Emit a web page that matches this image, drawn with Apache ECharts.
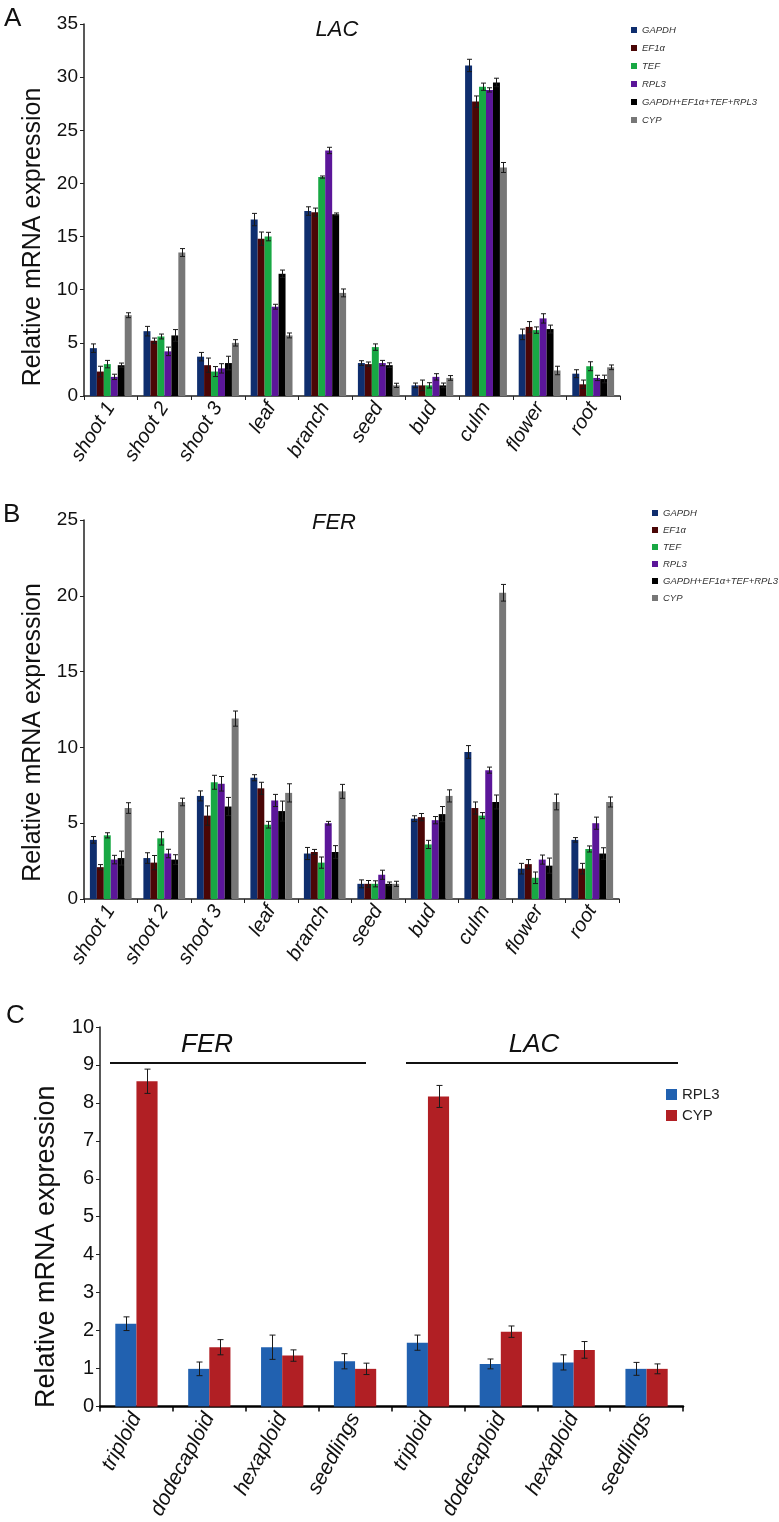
<!DOCTYPE html>
<html>
<head>
<meta charset="utf-8">
<script src="https://cdn.jsdelivr.net/npm/echarts@6/dist/echarts.min.js"></script>
<style>html,body{margin:0;padding:0;background:#fff}#c{width:779px;height:1522px}</style>
</head>
<body>
<div id="c"></div>
<script>
// ---------- DATA ----------
const tissues = ['shoot 1','shoot 2','shoot 3','leaf','branch','seed','bud','culm','flower','root'];
const refGenes = ['GAPDH','EF1α','TEF','RPL3','GAPDH+EF1α+TEF+RPL3','CYP'];

// Panel A: LAC
const lacGAPDH = [4.5, 6.1, 3.7, 16.6, 17.4, 3.1, 1.0, 31.1, 5.8, 2.1];
const lacEF1a  = [2.3, 5.2, 2.9, 14.8, 17.3, 3.0, 1.0, 27.7, 6.5, 1.1];
const lacTEF   = [3.0, 5.6, 2.3, 15.0, 20.6, 4.6, 1.0, 29.1, 6.2, 2.8];
const lacRPL3  = [1.8, 4.2, 2.6, 8.4, 23.1, 3.1, 1.8, 28.8, 7.3, 1.7];
const lacComb  = [2.9, 5.7, 3.1, 11.5, 17.1, 2.9, 1.0, 29.5, 6.3, 1.6];
const lacCYP   = [7.6, 13.5, 5.0, 5.7, 9.7, 1.0, 1.7, 21.5, 2.4, 2.7];
const lacGAPDHErr = [0.4, 0.45, 0.4, 0.58, 0.4, 0.22, 0.22, 0.58, 0.5, 0.37];
const lacEF1aErr  = [0.5, 0.25, 0.67, 0.63, 0.38, 0.2, 0.5, 0.53, 0.5, 0.4];
const lacTEFErr   = [0.35, 0.23, 0.47, 0.4, 0.1, 0.3, 0.25, 0.34, 0.3, 0.42];
const lacRPL3Err  = [0.25, 0.4, 0.44, 0.23, 0.3, 0.25, 0.3, 0.2, 0.44, 0.25];
const lacCombErr  = [0.2, 0.55, 0.64, 0.35, 0.12, 0.22, 0.22, 0.4, 0.37, 0.36];
const lacCYPErr   = [0.23, 0.37, 0.3, 0.23, 0.37, 0.2, 0.22, 0.47, 0.4, 0.22];

// Panel B: FER
const ferGAPDH = [3.9, 2.7, 6.8, 8.0, 3.0, 1.0, 5.3, 9.7, 2.0, 3.9];
const ferEF1a  = [2.1, 2.4, 5.5, 7.3, 3.1, 1.0, 5.4, 6.0, 2.3, 2.0];
const ferTEF   = [4.2, 4.0, 7.7, 4.9, 2.4, 1.0, 3.6, 5.5, 1.4, 3.3];
const ferRPL3  = [2.6, 3.0, 7.6, 6.5, 5.0, 1.6, 5.2, 8.5, 2.6, 5.0];
const ferComb  = [2.7, 2.6, 6.1, 5.8, 3.1, 1.0, 5.6, 6.4, 2.2, 3.0];
const ferCYP   = [6.0, 6.4, 11.9, 7.0, 7.1, 1.0, 6.8, 20.2, 6.4, 6.4];
const ferGAPDHErr = [0.22, 0.35, 0.33, 0.2, 0.4, 0.26, 0.19, 0.42, 0.35, 0.15];
const ferEF1aErr  = [0.17, 0.47, 0.64, 0.4, 0.17, 0.22, 0.24, 0.4, 0.3, 0.35];
const ferTEFErr   = [0.17, 0.44, 0.46, 0.22, 0.37, 0.2, 0.27, 0.2, 0.38, 0.2];
const ferRPL3Err  = [0.28, 0.28, 0.48, 0.4, 0.12, 0.3, 0.24, 0.2, 0.3, 0.4];
const ferCombErr  = [0.46, 0.32, 0.6, 0.66, 0.42, 0.12, 0.5, 0.46, 0.5, 0.38];
const ferCYPErr   = [0.35, 0.25, 0.5, 0.6, 0.46, 0.17, 0.4, 0.55, 0.52, 0.33];

// Panel C
const ploidy = ['triploid','dodecaploid','hexaploid','seedlings','triploid','dodecaploid','hexaploid','seedlings'];
const cGenes = ['RPL3','CYP'];
const cRPL3 = [2.18, 0.99, 1.56, 1.19, 1.68, 1.12, 1.16, 0.99];
const cCYP  = [8.57, 1.56, 1.34, 0.99, 8.17, 1.97, 1.49, 0.99];
const cRPL3Err = [0.18, 0.18, 0.32, 0.2, 0.2, 0.13, 0.2, 0.17];
const cCYPErr  = [0.32, 0.2, 0.15, 0.15, 0.29, 0.15, 0.22, 0.13];

const yTicksA = [0, 5, 10, 15, 20, 25, 30, 35];
const yTicksB = [0, 5, 10, 15, 20, 25];
const yTicksC = [0, 1, 2, 3, 4, 5, 6, 7, 8, 9, 10];

// ---------- STYLE ----------
const geneColors = ['#0f2e6e', '#4a0606', '#18a844', '#5b1699', '#000000', '#777777'];
const cColors = ['#2161b0', '#b11f24'];
const FONT = '"Liberation Sans", Arial, sans-serif';
const NARROW = '"Liberation Sans Narrow", "Liberation Sans", Arial, sans-serif';

const lacVals = [lacGAPDH, lacEF1a, lacTEF, lacRPL3, lacComb, lacCYP];
const lacErrs = [lacGAPDHErr, lacEF1aErr, lacTEFErr, lacRPL3Err, lacCombErr, lacCYPErr];
const ferVals = [ferGAPDH, ferEF1a, ferTEF, ferRPL3, ferComb, ferCYP];
const ferErrs = [ferGAPDHErr, ferEF1aErr, ferTEFErr, ferRPL3Err, ferCombErr, ferCYPErr];

const GAP_AB = 0.22, GAP_C = 0.42;

function errSeries(axisIdx, vals, errs, i, n, gap, capHalf, name) {
  return {
    type: 'custom', name: name + ' err', xAxisIndex: axisIdx, yAxisIndex: axisIdx,
    silent: true, z: 5,
    data: vals.map((v, k) => [k, v, errs[k]]),
    encode: { x: 0, y: 1 },
    renderItem: function (params, api) {
      const idx = api.value(0), v = api.value(1), e = api.value(2);
      const base = api.coord([idx, v]);
      const band = api.size([1, 0])[0];
      const total = band * (1 - gap);
      const bw = total / n;
      const cx = Math.round(base[0] - total / 2 + bw * (i + 0.5)) + 0.5;
      const yt = api.coord([idx, v + e])[1];
      const yb = api.coord([idx, v - e])[1];
      const st = { stroke: '#1a1a1a', lineWidth: 1 };
      return {
        type: 'group',
        children: [
          { type: 'line', shape: { x1: cx, y1: yt, x2: cx, y2: yb }, style: st },
          { type: 'line', shape: { x1: cx - capHalf, y1: yt, x2: cx + capHalf, y2: yt }, style: st },
          { type: 'line', shape: { x1: cx - capHalf, y1: yb, x2: cx + capHalf, y2: yb }, style: st }
        ]
      };
    }
  };
}

const series = [];
[[lacVals, lacErrs, 0], [ferVals, ferErrs, 1]].forEach(([vals, errs, ax]) => {
  refGenes.forEach((g, i) => {
    series.push({
      type: 'bar', name: g, xAxisIndex: ax, yAxisIndex: ax,
      data: vals[i], barGap: '0%', barCategoryGap: (GAP_AB * 100) + '%',
      itemStyle: { color: geneColors[i] }
    });
  });
  refGenes.forEach((g, i) => series.push(errSeries(ax, vals[i], errs[i], i, 6, GAP_AB, 2.5, g)));
});
const cVals = [cRPL3, cCYP], cErrs = [cRPL3Err, cCYPErr];
cGenes.forEach((g, i) => {
  series.push({
    type: 'bar', name: g, xAxisIndex: 2, yAxisIndex: 2,
    data: cVals[i], barGap: '0%', barCategoryGap: (GAP_C * 100) + '%',
    itemStyle: { color: cColors[i] }
  });
});
cGenes.forEach((g, i) => series.push(errSeries(2, cVals[i], cErrs[i], i, 2, GAP_C, 3, g + 'C')));

function xAxisAB(idx) {
  return {
    type: 'category', gridIndex: idx, data: tissues,
    axisLine: { lineStyle: { color: '#222', width: 1.5 } },
    axisTick: { show: true, length: 4, lineStyle: { color: '#222' } },
    axisLabel: { rotate: 58, fontSize: 20, fontStyle: 'italic', color: '#111', fontFamily: FONT, margin: 8, interval: 0 }
  };
}
function yAxisAB(idx, max, ticks, shiftDown) {
  return {
    type: 'value', gridIndex: idx, min: ticks[0], max: max, interval: ticks[1] - ticks[0],
    name: 'Relative mRNA expression', nameLocation: 'middle', nameGap: 37,
    nameTextStyle: { fontSize: 25, color: '#111', fontFamily: FONT, padding: [0, shiftDown * 2, 0, 0] },
    axisLine: { show: true, lineStyle: { color: '#222', width: 1.5 } },
    axisTick: { show: true, length: 4, lineStyle: { color: '#222' } },
    splitLine: { show: false },
    axisLabel: { fontSize: 19, color: '#111', fontFamily: FONT, margin: 6 }
  };
}

function legendAB(top, left, gap) {
  return {
    orient: 'vertical', left: left, top: top, data: refGenes,
    icon: 'rect', itemWidth: 6, itemHeight: 6, itemGap: gap,
    textStyle: { fontSize: 9.5, fontStyle: 'italic', color: '#333', fontFamily: FONT, lineHeight: 12 },
    selectedMode: false
  };
}

const option = {
  animation: false,
  backgroundColor: '#fff',
  grid: [
    { left: 84, right: 159, top: 24, bottom: 1126 },
    { left: 84, right: 160, top: 520, bottom: 623 },
    { left: 100, right: 96, top: 1027, bottom: 113 }
  ],
  xAxis: [
    xAxisAB(0), xAxisAB(1),
    {
      type: 'category', gridIndex: 2, data: ploidy,
      axisLine: { lineStyle: { color: '#000', width: 2.5 } },
      axisTick: { show: true, length: 5, lineStyle: { color: '#000', width: 1.5 } },
      axisLabel: { rotate: 62, fontSize: 21, fontStyle: 'italic', color: '#111', fontFamily: FONT, margin: 8, interval: 0 }
    }
  ],
  yAxis: [
    yAxisAB(0, 35, yTicksA, 27), yAxisAB(1, 25, yTicksB, 23),
    {
      type: 'value', gridIndex: 2, min: yTicksC[0], max: 10, interval: yTicksC[1] - yTicksC[0],
      name: 'Relative mRNA expression', nameLocation: 'middle', nameGap: 40,
      nameTextStyle: { fontSize: 27, color: '#111', fontFamily: FONT, padding: [0, 60, 0, 0] },
      axisLine: { show: true, lineStyle: { color: '#222', width: 1.5 } },
      axisTick: { show: true, length: 4, lineStyle: { color: '#222' } },
      splitLine: { show: false },
      axisLabel: { fontSize: 20, color: '#111', fontFamily: NARROW, margin: 6 }
    }
  ],
  legend: [
    legendAB(19, 626, 6),
    legendAB(502, 647, 5),
    {
      orient: 'vertical', left: 661, top: 1082, selectedMode: false,
      data: [
        { name: 'RPL3', itemStyle: { color: cColors[0] } },
        { name: 'CYP', itemStyle: { color: cColors[1] } }
      ],
      icon: 'rect', itemWidth: 11, itemHeight: 11, itemGap: 6,
      textStyle: { fontSize: 15, color: '#222', fontFamily: FONT }
    }
  ],
  graphic: [
    { type: 'text', left: 4, top: 6, style: { text: 'A', font: '26px ' + FONT, fill: '#111' } },
    { type: 'text', left: 3, top: 502, style: { text: 'B', font: '26px ' + FONT, fill: '#111' } },
    { type: 'text', left: 6, top: 1003, style: { text: 'C', font: '26px ' + FONT, fill: '#111' } },
    { type: 'text', x: 337, y: 30, style: { text: 'LAC', font: 'italic 22px ' + FONT, fill: '#111', textAlign: 'center', textVerticalAlign: 'middle' } },
    { type: 'text', x: 334, y: 523, style: { text: 'FER', font: 'italic 22px ' + FONT, fill: '#111', textAlign: 'center', textVerticalAlign: 'middle' } },
    { type: 'text', x: 207, y: 1045, style: { text: 'FER', font: 'italic 26px ' + FONT, fill: '#111', textAlign: 'center', textVerticalAlign: 'middle' } },
    { type: 'text', x: 534, y: 1045, style: { text: 'LAC', font: 'italic 26px ' + FONT, fill: '#111', textAlign: 'center', textVerticalAlign: 'middle' } },
    { type: 'line', shape: { x1: 110, y1: 1063, x2: 366, y2: 1063 }, style: { stroke: '#111', lineWidth: 2 } },
    { type: 'line', shape: { x1: 406, y1: 1063, x2: 678, y2: 1063 }, style: { stroke: '#111', lineWidth: 2 } }
  ],
  series: series
};

const chart = echarts.init(document.getElementById('c'), null, { renderer: 'canvas' });
chart.setOption(option);
</script>
</body>
</html>
